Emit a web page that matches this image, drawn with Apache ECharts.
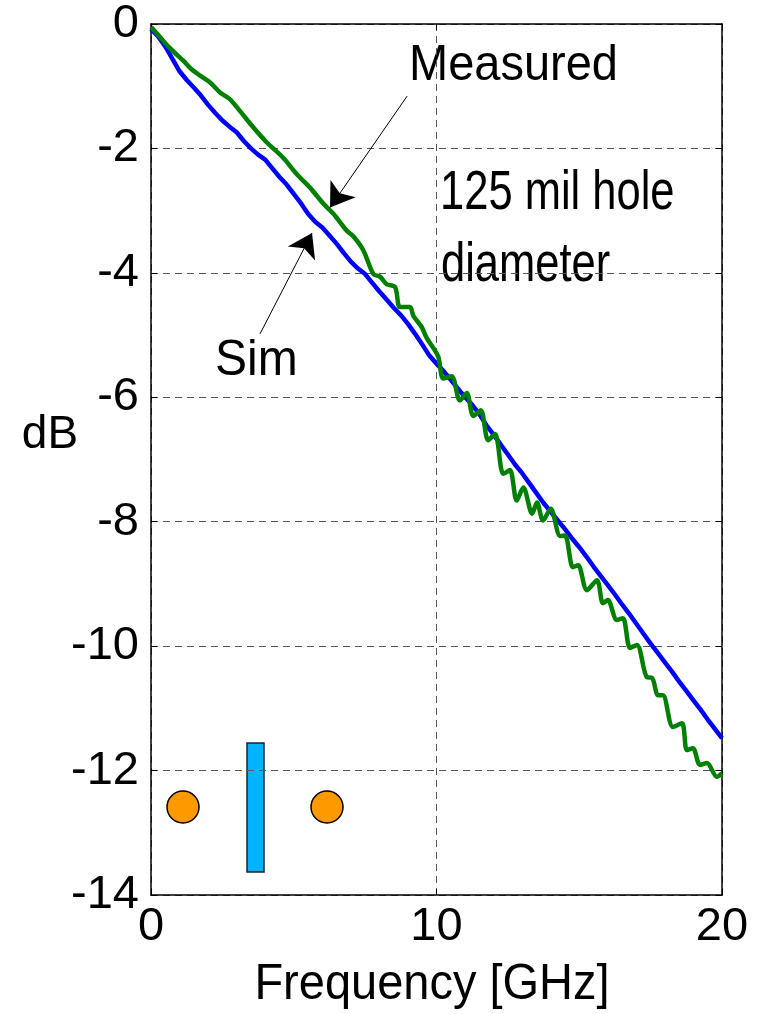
<!DOCTYPE html>
<html>
<head>
<meta charset="utf-8">
<script src="https://cdn.jsdelivr.net/npm/echarts@6/dist/echarts.min.js"></script>
<style>
  html, body { margin: 0; padding: 0; background: #fff; }
  #main { width: 757px; height: 1014px; }
</style>
</head>
<body>
<div id="main"></div>
<script>
// x axis ticks (GHz) and y axis ticks (dB)
var xTicks = [0, 10, 20];
var yTicks = [0, -2, -4, -6, -8, -10, -12, -14];

// Sim curve, sampled every 0.25 GHz
var simFreq = [
  0, 0.25, 0.5, 0.75, 1, 1.25, 1.5, 1.75, 2, 2.25, 2.5, 2.75, 3, 3.25, 3.5, 3.75,
  4, 4.25, 4.5, 4.75, 5, 5.25, 5.5, 5.75, 6, 6.25, 6.5, 6.75, 7, 7.25, 7.5, 7.75,
  8, 8.25, 8.5, 8.75, 9, 9.25, 9.5, 9.75, 10, 10.25, 10.5, 10.75, 11, 11.25, 11.5, 11.75,
  12, 12.25, 12.5, 12.75, 13, 13.25, 13.5, 13.75, 14, 14.25, 14.5, 14.75, 15, 15.25, 15.5, 15.75,
  16, 16.25, 16.5, 16.75, 17, 17.25, 17.5, 17.75, 18, 18.25, 18.5, 18.75, 19, 19.25, 19.5, 19.75, 20
];
var simDb = [
  -0.08, -0.20, -0.36, -0.56, -0.76, -0.90, -1.02, -1.15, -1.30, -1.43, -1.55, -1.65, -1.74, -1.88, -2.00, -2.10,
  -2.18, -2.32, -2.46, -2.58, -2.73, -2.88, -3.05, -3.18, -3.27, -3.40, -3.53, -3.68, -3.82, -3.93, -4.02, -4.16,
  -4.30, -4.43, -4.56, -4.68, -4.82, -4.98, -5.15, -5.33, -5.46, -5.58, -5.72, -5.86, -6.00, -6.12, -6.27, -6.45,
  -6.60, -6.76, -6.92, -7.08, -7.22, -7.38, -7.54, -7.70, -7.84, -7.98, -8.12, -8.27, -8.41, -8.56, -8.72, -8.87,
  -9.02, -9.17, -9.33, -9.48, -9.64, -9.80, -9.96, -10.11, -10.26, -10.41, -10.57, -10.72, -10.87, -11.02, -11.18, -11.33, -11.48
];

var measFreq = [
  0, 0.3, 0.6, 0.85, 1.13, 1.4, 1.72, 2.07, 2.42, 2.77, 3.12, 3.58, 4.05, 4.63, 5.10, 5.57,
  6.04, 6.39, 6.85, 7.1, 7.44, 7.79, 8.02, 8.25, 8.55, 8.72, 9.07, 9.19, 9.48, 9.66, 9.95, 10.07,
  10.24, 10.53, 10.82, 11.06, 11.29, 11.55, 11.81, 12.05, 12.34, 12.57, 12.81, 13.04, 13.35, 13.52, 13.73, 14.0,
  14.33, 14.5, 14.78, 14.96, 15.27, 15.62, 15.83, 16.0, 16.32, 16.53, 16.78, 17.02, 17.37, 17.55, 17.76, 17.93,
  18.28, 18.6, 18.77, 18.98, 19.23, 19.47, 19.82, 20
];
var measDb = [
  -0.05, -0.20, -0.36, -0.47, -0.59, -0.72, -0.83, -0.94, -1.10, -1.21, -1.40, -1.66, -1.90, -2.15, -2.41, -2.63,
  -2.89, -3.05, -3.32, -3.42, -3.64, -4.02, -4.06, -4.18, -4.23, -4.55, -4.55, -4.69, -4.87, -5.05, -5.25, -5.36,
  -5.70, -5.66, -6.05, -5.93, -6.30, -6.21, -6.69, -6.59, -7.23, -7.17, -7.66, -7.45, -7.87, -7.69, -7.98, -7.79,
  -8.23, -8.22, -8.73, -8.70, -9.10, -8.94, -9.31, -9.26, -9.58, -9.55, -10.03, -9.98, -10.50, -10.51, -10.79, -10.79,
  -11.30, -11.24, -11.67, -11.64, -11.91, -11.88, -12.10, -12.04
];

var FONT = '"Liberation Sans", Arial, sans-serif';

var myChart = echarts.init(document.getElementById("main"));

function pairs(xs, ys) {
  return xs.map(function(x, i) {
    return [x, ys[i]];
  });
}

function label(text, x, y, size, align, sx, sy) {
  return {
    type: "text",
    x: x,
    y: y,
    scaleX: sx || 1,
    scaleY: sy || 1,
    silent: true,
    style: {
      text: text,
      x: 0,
      y: 0,
      font: size + "px " + FONT,
      fill: "#000",
      align: align,
      textAlign: align,
      verticalAlign: "middle",
      textVerticalAlign: "middle"
    }
  };
}

var boxLine = { show: true, onZero: false, lineStyle: { color: "#000", width: 1.5 } };
var innerTick = { show: true, inside: true, length: 6, lineStyle: { color: "#000", width: 1 } };
var gridDash = { show: true, lineStyle: { color: "#555", width: 1, type: [7, 5] } };

var option = {
  backgroundColor: "#fff",
  animation: false,
  grid: { left: 151, top: 24, width: 571, height: 871 },
  xAxis: [
    {
      type: "value",
      position: "bottom",
      min: xTicks[0],
      max: xTicks[xTicks.length - 1],
      interval: 10,
      axisLine: boxLine,
      axisTick: innerTick,
      splitLine: gridDash,
      axisLabel: { fontSize: 47, fontFamily: FONT, color: "#000", margin: 9 }
    },
    {
      type: "value",
      position: "top",
      min: xTicks[0],
      max: xTicks[xTicks.length - 1],
      interval: 10,
      axisLine: boxLine,
      axisTick: innerTick,
      splitLine: { show: false },
      axisLabel: { show: false }
    }
  ],
  yAxis: [
    {
      type: "value",
      position: "left",
      min: yTicks[yTicks.length - 1],
      max: yTicks[0],
      interval: 2,
      axisLine: boxLine,
      axisTick: innerTick,
      splitLine: gridDash,
      axisLabel: { fontSize: 47, fontFamily: FONT, color: "#000", margin: 12 }
    },
    {
      type: "value",
      position: "right",
      min: yTicks[yTicks.length - 1],
      max: yTicks[0],
      interval: 2,
      axisLine: boxLine,
      axisTick: innerTick,
      splitLine: { show: false },
      axisLabel: { show: false }
    }
  ],
  series: [
    {
      name: "Sim",
      type: "line",
      data: pairs(simFreq, simDb),
      showSymbol: false,
      silent: true,
      lineStyle: { color: "#0000FF", width: 4.5 },
      z: 3
    },
    {
      name: "Measured",
      type: "line",
      data: pairs(measFreq, measDb),
      showSymbol: false,
      silent: true,
      smooth: 0.3,
      lineStyle: { color: "#008000", width: 4.5 },
      z: 4,
      markLine: {
        silent: true,
        animation: false,
        label: { show: false },
        lineStyle: { color: "#000", width: 1, type: "solid" },
        symbol: ["none", "arrow"],
        symbolSize: 23,
        data: [
          [{ coord: [8.97, -1.16] }, { coord: [6.27, -2.95] }],
          [{ coord: [3.82, -4.98] }, { coord: [5.64, -3.36] }]
        ]
      }
    }
  ],
  graphic: [
    label("Measured", 409, 66, 47, "left", 1, 1.08),
    label("Sim", 215, 361, 48, "left", 1, 1.05),
    label("125 mil hole", 440, 194, 50, "left", 0.87, 1.1),
    label("diameter", 441, 266, 50, "left", 0.87, 1.1),
    label("Frequency [GHz]", 432, 985, 47, "center", 1, 1.05),
    label("dB", 50, 435, 46, "center", 1, 1),
    { type: "circle", shape: { cx: 183, cy: 807, r: 16 }, style: { fill: "#FF9900", stroke: "#000", lineWidth: 1.5 } },
    { type: "circle", shape: { cx: 327, cy: 807, r: 16 }, style: { fill: "#FF9900", stroke: "#000", lineWidth: 1.5 } },
    { type: "rect", shape: { x: 247, y: 743, width: 17, height: 129 }, style: { fill: "#00B4FF", stroke: "#222", lineWidth: 1.5 } }
  ]
};

myChart.setOption(option);
</script>
</body>
</html>
